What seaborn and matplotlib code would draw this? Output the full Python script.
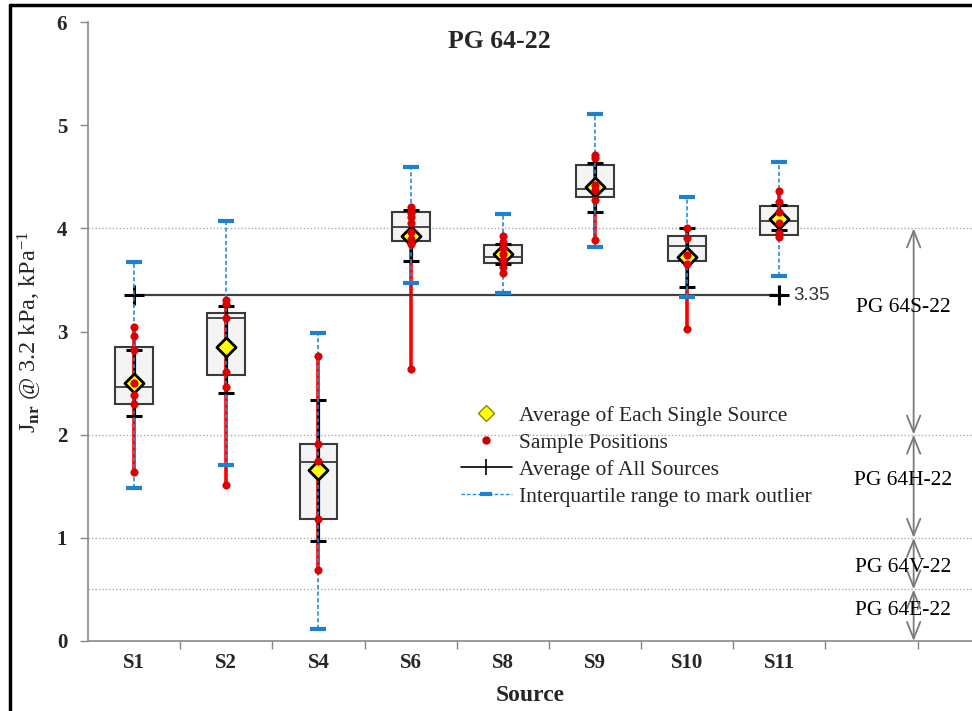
import numpy as np
import pandas as pd
import matplotlib
matplotlib.use("Agg")
import matplotlib.pyplot as plt
from matplotlib.lines import Line2D
import seaborn as sns

# ---------------- data ----------------
sources = ['S1', 'S2', 'S4', 'S6', 'S8', 'S9', 'S10', 'S11']
q1 = [2.30, 2.58, 1.18, 3.88, 3.66, 4.30, 3.68, 3.94]
median = [2.46, 3.135, 1.737, 4.01, 3.72, 4.385, 3.83, 4.07]
q3 = [2.85, 3.18, 1.909, 4.16, 3.84, 4.61, 3.924, 4.215]
means = [2.50, 2.845, 1.66, 3.93, 3.755, 4.40, 3.72, 4.095]
sd_low = [2.18, 2.405, 0.97, 3.68, 3.65, 4.155, 3.43, 3.98]
sd_high = [2.82, 3.246, 2.335, 4.18, 3.85, 4.63, 4.00, 4.225]
fence_low = [1.486, 1.705, 0.113, 3.469, 3.37, 3.82, 3.33, 3.54]
fence_high = [3.675, 4.07, 2.99, 4.59, 4.14, 5.11, 4.30, 4.64]
samples = {
    'S1': [3.04, 2.96, 2.82, 2.50, 2.38, 2.30, 1.64],
    'S2': [3.31, 3.27, 3.13, 2.61, 2.46, 1.51],
    'S4': [2.76, 1.91, 1.74, 1.18, 0.69],
    'S6': [4.21, 4.18, 4.15, 4.11, 4.05, 3.96, 3.90, 3.87, 3.85, 2.64],
    'S8': [3.93, 3.87, 3.81, 3.75, 3.69, 3.63, 3.57],
    'S9': [4.71, 4.68, 4.42, 4.37, 4.27, 3.89],
    'S10': [4.00, 3.91, 3.74, 3.65, 3.02],
    'S11': [4.36, 4.26, 4.16, 4.05, 3.95, 3.92],
}
overall_avg = 3.35
grade_bounds = [0.0, 0.5, 1.0, 2.0, 4.0]
grade_labels = ['PG 64E-22', 'PG 64V-22', 'PG 64H-22', 'PG 64S-22']
grade_label_y = [0.30, 0.71, 1.56, 3.23]
yticks = [0, 1, 2, 3, 4, 5, 6]

# ---------------- style ----------------
sns.set_theme(style='white')
plt.rcParams['font.family'] = ['Liberation Serif', 'DejaVu Serif']
plt.rcParams['mathtext.fontset'] = 'custom'
plt.rcParams['mathtext.rm'] = 'Liberation Serif'
plt.rcParams['mathtext.it'] = 'Liberation Serif'
plt.rcParams['mathtext.bf'] = 'Liberation Serif:bold'

fig = plt.figure(figsize=(9.72, 7.11), dpi=100)
ax = fig.add_axes([88 / 972, 1 - 641 / 711, 1 - 88 / 972, (641 - 22) / 711])

pos = np.arange(len(sources))

# grade boundary gridlines
for yb in grade_bounds[1:]:
    ax.axhline(yb, color='#a8a8a8', lw=1.0, ls=(0, (1, 1.5)), zorder=0)

# boxes
stats = [dict(q1=a, med=m, q3=b, whislo=a, whishi=b, fliers=[], label=s)
         for a, m, b, s in zip(q1, median, q3, sources)]
ax.bxp(stats, positions=pos, widths=0.41, patch_artist=True, showcaps=False,
       showfliers=False,
       boxprops=dict(facecolor='#f4f4f4', edgecolor='#3a3a3a', linewidth=1.5),
       medianprops=dict(color='#3a3a3a', linewidth=1.3),
       whiskerprops=dict(linewidth=0), zorder=1)

# red sample range lines
smin = [min(samples[s]) for s in sources]
smax = [max(samples[s]) for s in sources]
ax.vlines(pos, smin, smax, color='#ff0000', lw=2.6, zorder=2)

# black mean +/- sd lines
ax.vlines(pos, sd_low, sd_high, color='black', lw=2.3, zorder=3)
ax.plot(pos, sd_low, ls='none', marker='_', ms=12, mew=2.2, color='black', zorder=3)
ax.plot(pos, sd_high, ls='none', marker='_', ms=12, mew=2.2, color='black', zorder=3)

# blue dashed fences
ax.vlines(pos, fence_low, fence_high, color='#2a8ad8', lw=1.2, ls=(0, (2.5, 1.5)), zorder=4)
ax.plot(pos, fence_low, ls='none', marker='_', ms=12, mew=3, color='#1f80d0', zorder=4)
ax.plot(pos, fence_high, ls='none', marker='_', ms=12, mew=3, color='#1f80d0', zorder=4)

# means
mdf = pd.DataFrame({'x': pos, 'y': means})
sns.scatterplot(data=mdf, x='x', y='y', marker='D', s=95, color='#ffff00',
                edgecolor='black', linewidth=2, zorder=5, ax=ax, legend=False)

# sample points
sdf = pd.DataFrame([(i, v) for i, s in enumerate(sources) for v in samples[s]],
                   columns=['x', 'y'])
sns.scatterplot(data=sdf, x='x', y='y', marker='o', s=28, color='#e00000',
                edgecolor='#cc0000', linewidth=0.5, zorder=6, ax=ax, legend=False)

# average of all sources
ax.plot([pos[0], pos[-1]], [overall_avg, overall_avg], color='#404040', lw=1.6,
        marker='+', ms=14, mew=2.2, mec='black', zorder=3)
ax.text(pos[-1] + 0.15, overall_avg, f'{overall_avg:.2f}', va='center', ha='left',
        fontsize=13.5, color='#333333', family=['Liberation Sans', 'DejaVu Sans'])

# grade arrows
xa = 8.457
for lo, hi in zip(grade_bounds[:-1], grade_bounds[1:]):
    ax.annotate('', xy=(xa, lo), xytext=(xa, hi),
                arrowprops=dict(arrowstyle='<->,head_length=1.0,head_width=0.4',
                                color='#7a7a7a', lw=1.3, shrinkA=0, shrinkB=0),
                zorder=2)
for lab, yl in zip(grade_labels, grade_label_y):
    ax.text(8.34, yl, lab, ha='center', va='center', fontsize=15.5, color='black', zorder=3)

# axes
ax.set_xlim(-0.5, 9.09)
ax.set_ylim(0, 6)
ax.set_yticks(yticks)
ax.set_yticklabels([str(t) for t in yticks], fontweight='bold', fontsize=15)
ax.set_xticks(np.arange(0.5, 9.0, 1.0))
ax.set_xticklabels([])
ax.set_xticks(pos, minor=True)
ax.set_xticklabels(sources, minor=True, fontweight='bold', fontsize=15)
ax.tick_params(axis='x', which='major', direction='out', length=6, width=1, color='#888888', bottom=True)
ax.tick_params(axis='x', which='minor', length=0, pad=9, bottom=True)
ax.tick_params(axis='y', direction='out', length=6, width=1, color='#888888', left=True, pad=9)
for side in ['top', 'right']:
    ax.spines[side].set_visible(False)
for side in ['left', 'bottom']:
    ax.spines[side].set_color('#8a8a8a')
    ax.spines[side].set_linewidth(1.2)
ax.set_xlabel('Source', fontweight='bold', fontsize=17, labelpad=8)
ax.set_ylabel(r'J$_{\mathbf{nr}}$ @ 3.2 kPa, kPa$^{-1}$', fontsize=17.5, labelpad=9)
ax.set_title('PG 64-22', fontweight='bold', fontsize=18.5, y=0.945, x=(499 - 88) / (972 - 88))

# legend
handles = [
    Line2D([], [], ls='none', marker='D', ms=8, mfc='#ffff00', mec='#888800', mew=1),
    Line2D([], [], ls='none', marker='o', ms=5, mfc='#cc0000', mec='#cc0000'),
    Line2D([], [], color='black', lw=1.2, marker='|', ms=12, mew=1.2),
    Line2D([], [], color='#2a8ad8', lw=1, ls=(0, (2.5, 1.5)), marker='_', ms=8, mew=3, mec='#1f80d0'),
]
labels = ['Average of Each Single Source', 'Sample Positions',
          'Average of All Sources', 'Interquartile range to mark outlier']
ax.legend(handles, labels, loc='upper left', bbox_to_anchor=((452 - 88) / 884, (641 - 397) / 619),
          frameon=False, fontsize=15.5, handlelength=2.4, handletextpad=0.3,
          labelspacing=0.32, borderaxespad=0)

# figure border (left and top)
fig.add_artist(Line2D([10 / 972, 10 / 972], [0, 1 - 5 / 711], color='black', lw=2.5,
                      transform=fig.transFigure))
fig.add_artist(Line2D([10 / 972, 1], [1 - 5 / 711, 1 - 5 / 711], color='black', lw=2.5,
                      transform=fig.transFigure))

fig.savefig('out.png', dpi=100)
